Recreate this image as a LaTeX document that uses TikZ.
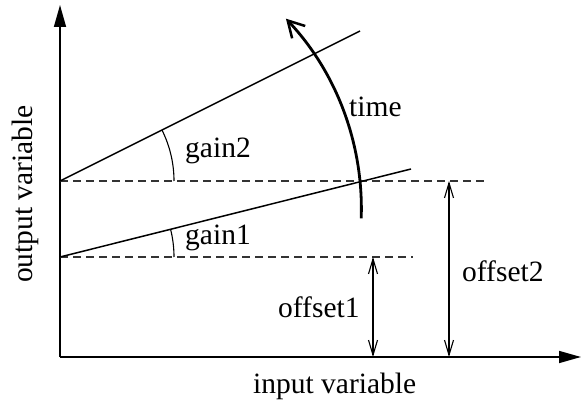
\documentclass[tikz,border=0pt]{standalone}
\usepackage{fontspec}
\setmainfont{Liberation Serif}
\usetikzlibrary{arrows.meta}
\begin{document}
\begin{tikzpicture}[x=1pt,y=-1pt,
  axis/.style={line width=1.6pt,-{Triangle[length=22pt,width=12pt]}},
  curve/.style={line width=1.5pt},
  guide/.style={line width=1.1pt,dash pattern=on 8pt off 5pt,black!80},
  angarc/.style={line width=1.1pt},
  timearr/.style={line width=2.8pt,-{Straight Barb[length=16pt,width=18pt,line width=2.5pt]}},
  offarr/.style={line width=1.1pt,{Straight Barb[length=15pt,width=9pt]}-{Straight Barb[length=15pt,width=9pt]}},
  lbl/.style={font=\fontsize{29.5}{34}\selectfont, inner sep=0pt, anchor=base west}
]
\useasboundingbox (0,0) rectangle (581,403);
% coordinates
\coordinate (O) at (60,357);
\coordinate (Ytop) at (60,5);
\coordinate (Xend) at (581,357);
\coordinate (A2) at (60,181);
\coordinate (A1) at (60,257);
\coordinate (L2end) at (360,31);
\coordinate (L1end) at (411,169);
\coordinate (D2end) at (488,181);
\coordinate (D1end) at (413,257);
\coordinate (T0) at (361.2,218.3);
\coordinate (Off1top) at (373,257);
\coordinate (Off1bot) at (373,357);
\coordinate (Off2top) at (449,181);
\coordinate (Off2bot) at (449,357);
% axes
\draw[axis] (O) -- (Ytop);
\draw[axis] (O) -- (Xend);
% dashed guides
\draw[guide] (A2) -- (D2end);
\draw[guide] (A1) -- (D1end);
% characteristic lines
\draw[curve] (A2) -- (L2end);
\draw[curve] (A1) -- (L1end);
% angle arcs
\draw[angarc] ([xshift=114pt]A2) arc[start angle=0,end angle=26.5,radius=114pt];
\draw[angarc] ([xshift=114pt]A1) arc[start angle=0,end angle=14,radius=114pt];
% time arrow
\draw[timearr] (T0) arc[start angle=-2,end angle=43.3,radius=277pt];
% offset arrows
\draw[offarr] (Off1top) -- (Off1bot);
\draw[offarr] (Off2top) -- (Off2bot);
% labels
\node[lbl] (g2) at (185,158) {gain2};
\node[lbl] (g1) at (185,245) {gain1};
\node[lbl] (tm) at (349,117) {time};
\node[lbl] (o1) at (278,318) {offset1};
\node[lbl] (o2) at (462,282) {offset2};
\node[lbl] (iv) at (253,393) {input variable};
\node[lbl,rotate=90] (ov) at (32,283) {output variable};
\end{tikzpicture}
\end{document}
